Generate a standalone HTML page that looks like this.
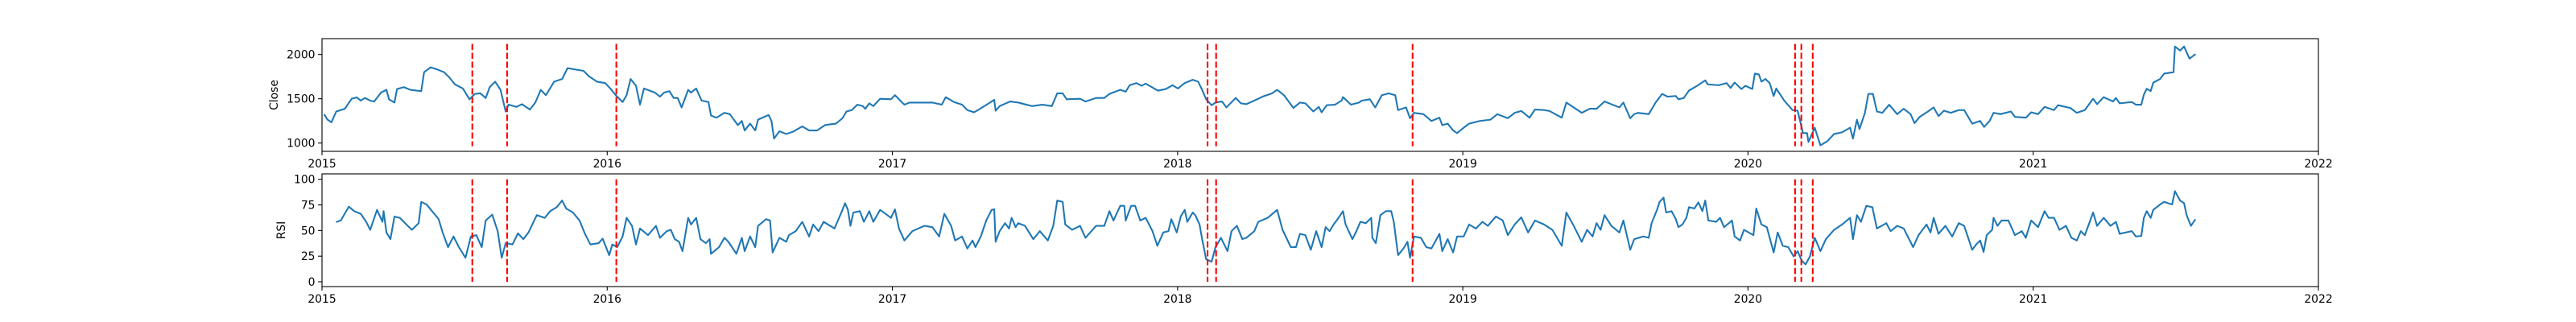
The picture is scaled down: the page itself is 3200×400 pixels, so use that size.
<!DOCTYPE html>
<html><head><meta charset="utf-8"><style>
html,body{margin:0;padding:0;background:#fff;}
svg{display:block;font-family:"DejaVu Sans","Liberation Sans",sans-serif;}
</style></head><body>
<svg id="chart" width="3200" height="400" viewBox="0 0 3200 400" xmlns="http://www.w3.org/2000/svg">
<rect x="0" y="0" width="3200" height="400" fill="#fff"/>
</svg>
<script>
// time values are years elapsed since 2015-01-01
const xTickLabels = ["2015","2016","2017","2018","2019","2020","2021","2022"];
const closeTicks = [1000,1500,2000];
const rsiTicks = [0,25,50,75,100];
const signalYears = [0.527,0.649,1.032,3.105,3.135,3.824,5.165,5.187,5.227];

const closeYears = [0.009,0.019,0.033,0.050,0.080,0.104,0.122,0.136,0.150,0.169,0.183,0.207,0.226,0.235,0.254,0.263,0.287,0.310,0.348,0.358,0.381,0.400,0.428,0.447,0.466,0.494,0.517,0.536,0.555,0.574,0.588,0.607,0.626,0.644,0.654,0.682,0.701,0.729,0.748,0.767,0.785,0.814,0.842,0.861,0.889,0.917,0.936,0.964,0.993,1.011,1.030,1.054,1.068,1.082,1.101,1.115,1.129,1.167,
1.185,1.200,1.218,1.233,1.247,1.261,1.284,1.294,1.312,1.331,1.355,1.364,1.383,1.411,1.430,1.458,1.472,1.482,1.501,1.519,1.529,1.566,1.576,1.585,1.604,1.628,1.651,1.684,1.708,1.736,1.764,1.802,1.825,1.839,1.858,1.877,1.896,1.905,1.919,1.933,1.957,1.995,2.009,2.042,2.060,2.112,2.140,2.173,2.187,2.216,2.244,2.263,2.286,
2.300,2.338,2.357,2.362,2.376,2.413,2.441,2.489,2.526,2.559,2.578,2.597,2.611,2.658,2.677,2.714,2.743,2.761,2.799,2.818,2.832,2.855,2.874,2.888,2.931,2.959,2.982,3.001,3.025,3.053,3.072,3.086,3.100,3.119,3.133,3.156,3.171,3.204,3.222,3.241,3.283,3.298,3.331,3.349,3.373,3.406,3.429,3.448,
3.476,3.495,3.505,3.523,3.552,3.575,3.580,3.608,3.636,3.646,3.674,3.693,3.716,3.740,3.763,3.773,3.801,3.815,3.829,3.862,3.890,3.918,3.928,3.947,3.966,3.980,4.003,4.022,4.060,4.097,4.121,4.158,4.182,4.205,4.234,4.253,4.285,4.304,4.347,4.363,4.389,4.417,4.445,4.469,4.497,4.525,4.549,4.563,4.587,4.601,
4.615,4.652,4.676,4.699,4.718,4.747,4.756,4.775,4.793,4.822,4.850,4.859,4.897,4.925,4.939,4.953,4.977,4.991,5.015,5.024,5.038,5.047,5.061,5.076,5.090,5.099,5.127,5.156,5.174,5.193,5.207,5.212,5.234,5.254,5.278,5.302,5.330,5.358,5.368,5.382,5.391,5.410,5.422,5.438,5.452,5.471,5.495,5.523,5.546,5.570,5.584,5.602,5.631,5.651,5.668,5.687,5.711,5.739,5.758,
5.786,5.814,5.828,5.847,5.861,5.885,5.922,5.936,5.974,5.993,6.017,6.040,6.073,6.087,6.130,6.153,6.181,6.210,6.224,6.247,6.280,6.290,6.303,6.346,6.360,6.379,6.388,6.398,6.412,6.421,6.445,6.459,6.492,6.497,6.515,6.529,6.548,6.567];
const closeValues = [1317,1265,1234,1356,1387,1500,1515,1479,1509,1479,1469,1570,1601,1494,1457,1610,1631,1601,1586,1800,1855,1836,1800,1739,1662,1616,1494,1555,1561,1509,1631,1693,1601,1356,1433,1408,1439,1378,1457,1601,1540,1693,1723,1846,1830,1815,1754,1693,1677,1616,1540,1463,1540,1723,1647,1433,1616,1570,
1524,1570,1586,1509,1509,1402,1601,1570,1616,1479,1463,1310,1286,1341,1326,1203,1249,1142,1219,1142,1264,1317,1249,1050,1133,1102,1127,1188,1142,1142,1203,1219,1280,1356,1372,1433,1417,1387,1448,1417,1500,1494,1540,1433,1457,1457,1457,1433,1518,1463,1433,1372,1347,
1372,1448,1488,1365,1417,1469,1457,1417,1433,1417,1561,1561,1494,1500,1469,1509,1509,1555,1601,1580,1653,1677,1647,1671,1592,1610,1653,1616,1677,1714,1693,1601,1494,1427,1457,1469,1402,1509,1448,1439,1500,1524,1561,1601,1540,1396,1457,1448,
1356,1408,1347,1427,1433,1479,1518,1433,1457,1479,1494,1402,1540,1561,1540,1372,1402,1280,1341,1326,1249,1286,1203,1219,1142,1112,1173,1219,1249,1264,1326,1280,1341,1362,1286,1378,1372,1362,1286,1457,1402,1341,1387,1387,1469,1433,1402,1457,1280,1326,
1341,1326,1457,1555,1524,1531,1494,1509,1592,1647,1708,1662,1653,1677,1622,1683,1610,1647,1610,1784,1775,1693,1723,1677,1531,1616,1479,1372,1365,1112,1112,1011,1173,974,1020,1102,1121,1173,1050,1264,1158,1341,1555,1555,1356,1341,1433,1326,1387,1326,1225,1295,1356,1402,1304,1365,1341,1372,1372,
1219,1249,1182,1249,1341,1326,1356,1295,1286,1347,1326,1408,1372,1427,1396,1341,1372,1500,1439,1518,1469,1509,1448,1463,1433,1433,1546,1613,1586,1683,1723,1784,1800,2090,2044,2090,1953,1999];

const rsiYears = [0.052,0.066,0.094,0.113,0.136,0.155,0.169,0.193,0.212,0.216,0.226,0.240,0.254,0.273,0.296,0.315,0.339,0.348,0.367,0.386,0.409,0.423,0.442,0.461,0.480,0.503,0.522,0.541,0.560,0.574,0.597,0.616,0.630,0.644,0.668,0.687,0.706,0.724,0.753,0.781,0.800,0.823,0.842,0.856,0.880,0.903,0.922,0.941,0.970,0.984,1.007,1.018,1.035,1.054,1.068,1.087,1.101,1.115,1.143,
1.171,1.185,1.209,1.223,1.237,1.252,1.264,1.284,1.294,1.312,1.327,1.346,1.359,1.364,1.392,1.411,1.425,1.453,1.472,1.482,1.501,1.519,1.529,1.557,1.571,1.580,1.604,1.628,1.637,1.661,1.684,1.708,1.722,1.741,1.759,1.797,1.811,1.825,1.834,1.844,1.853,1.863,1.886,1.900,1.919,1.933,1.957,1.995,2.009,2.023,2.042,2.070,2.112,2.140,2.164,2.182,2.206,2.220,2.244,2.263,2.281,2.291,2.310,
2.329,2.348,2.357,2.362,2.376,2.395,2.409,2.418,2.432,2.441,2.465,2.494,2.517,2.545,2.564,2.578,2.597,2.606,2.630,2.658,2.677,2.714,2.743,2.761,2.775,2.799,2.813,2.818,2.837,2.851,2.869,2.888,2.912,2.929,2.950,2.968,2.978,2.997,3.011,3.025,3.034,3.053,3.062,3.077,3.086,3.100,3.119,3.133,3.152,3.175,3.189,3.208,3.227,3.241,3.269,3.283,3.316,3.349,3.368,3.397,3.415,3.429,3.448,
3.467,3.486,3.505,3.519,3.533,3.547,3.561,3.580,3.589,3.613,3.627,3.641,3.660,3.679,3.683,3.695,3.711,3.730,3.749,3.758,3.773,3.792,3.806,3.815,3.829,3.853,3.872,3.890,3.918,3.928,3.947,3.966,3.980,4.003,4.022,4.046,4.069,4.088,4.116,4.140,4.158,4.182,4.205,4.229,4.253,4.285,4.314,4.347,4.363,4.389,4.417,4.436,4.455,4.469,4.483,4.497,4.521,4.549,4.563,4.587,4.601,
4.633,4.652,4.662,4.681,4.690,4.704,4.713,4.732,4.747,4.756,4.770,4.784,4.793,4.812,4.826,4.840,4.850,4.861,4.888,4.902,4.916,4.944,4.953,4.972,4.986,5.019,5.029,5.047,5.066,5.090,5.104,5.122,5.141,5.160,5.174,5.188,5.202,5.217,5.234,5.254,5.273,5.302,5.330,5.358,5.368,5.382,5.396,5.415,5.436,5.452,5.485,5.500,5.523,5.546,5.579,5.598,5.626,5.640,5.651,5.668,5.692,5.716,5.739,5.758,
5.786,5.800,5.814,5.826,5.837,5.856,5.861,5.875,5.889,5.913,5.936,5.960,5.974,5.993,6.017,6.040,6.054,6.073,6.092,6.115,6.134,6.153,6.167,6.181,6.200,6.210,6.224,6.247,6.271,6.290,6.303,6.346,6.360,6.379,6.388,6.398,6.412,6.421,6.445,6.459,6.487,6.497,6.515,6.529,6.538,6.553,6.567];
const rsiValues = [58.5,59.8,73.3,68.9,66.3,58.5,50.7,70.2,58.5,68.9,48.1,41.6,63.7,62.4,55.9,50.7,57.2,78,75.4,68.9,61.1,48.1,33.8,44.2,33.8,23.4,44.2,45.5,33.8,59.8,65.5,49.4,23.4,37.7,36.4,47.3,41.6,48.1,65,62.4,68.9,72.8,79.3,71.5,67.6,59.8,46.8,36.4,37.7,42.1,26,36.4,33.8,44.2,62.4,54.6,36.4,52,45.5,
54.6,42.9,49.4,50.7,41.6,39,29.9,62.4,55.9,62.4,41.6,37.7,41.6,27.3,33.8,42.9,39,27.3,42.9,29.9,44.2,33.8,54.6,61.1,59.8,28.6,42.9,39,45.5,49.4,58.5,44.2,55.9,49.4,58.5,52,61.1,70.2,76.7,70.2,54.6,67.6,68.9,58.5,68.9,58.5,70.2,62.4,70.7,52,40.3,49.4,54.6,53.3,44.2,66.3,54.6,40.3,44.2,32.5,40.3,33.8,44.2,
59.8,70.2,70.7,39,49.4,57.2,52,62.4,53.3,57.2,54.6,41.6,49.4,40.3,54.6,79.3,78,55.9,50.7,54.6,42.9,54.6,54.6,68.9,59.8,74.1,74.1,59.8,74.1,74.1,59.8,62.4,49.4,35.1,48.1,49.4,61.1,48.1,63.7,70.2,58.5,67.6,65,55.9,41.6,22.1,19.5,33.8,42.9,29.9,49.4,54.6,41.6,42.9,49.4,58.5,62.4,70.2,50.7,33.8,33.8,46.8,45.5,
31.2,49.4,33.8,53.3,49.4,55.9,61.1,68.9,55.9,41.6,49.4,58.5,57.2,62.4,42.9,37.7,65,68.9,68.9,58.5,26,32.5,39,23.4,44.2,42.9,33.8,32.5,46.8,29.9,41.6,28.6,44.2,44.2,55.9,52,58.5,54.6,63.7,59.8,45.5,55.9,62.9,48.1,59.8,55.9,50.7,35.1,67.6,54.6,39,50.7,44.2,57.2,50.7,65,54.6,48.1,59.8,31.2,41.6,
44.2,42.9,57.2,70.2,78,82.1,67.6,68.9,61.1,53.3,55.9,62.4,72.8,71.5,77.5,68.9,79.3,59.8,58.5,62.4,53.3,59.8,44.2,40.3,50.7,45.5,71.5,55.9,53.3,28.6,48.1,35.1,33.8,24.7,29.9,20.8,16.9,24.7,42.9,29.9,41.6,50.7,55.9,62.4,41.6,65,58.5,74.1,72.8,52,57.2,49.4,54.6,52,33.8,45.5,55.9,48.1,62.4,46.8,54.6,44.2,57.2,54.6,
31.2,36.4,40.3,29.1,45.5,50.7,62.4,54.6,59.8,59.8,45.5,49.4,42.9,59.8,53.3,68.9,62.4,62.4,50.7,54.6,42.9,40.3,49.4,45.5,59.8,67.6,54.6,62.4,54.6,58.5,46.8,49.4,44.2,44.7,62.4,68.9,62.4,70.2,75.4,78,75.4,88.4,79.3,76.7,65,54.6,60.3];

const NS = "http://www.w3.org/2000/svg";
const svg = document.getElementById('chart');
const L = 400, R = 2880, YRS = 7;
const xScale = t => L + t / YRS * (R - L);
const panels = [
  {name:'close', top:48, bottom:188, min:906, max:2179, label:'Close', ticks:closeTicks, xs:closeYears, ys:closeValues},
  {name:'rsi', top:216, bottom:356, min:-4.7, max:105.3, label:'RSI', ticks:rsiTicks, xs:rsiYears, ys:rsiValues}
];
function mk(tag, attrs, parent){ const e=document.createElementNS(NS,tag); for(const k in attrs) e.setAttribute(k,attrs[k]); (parent||svg).appendChild(e); return e; }

panels.forEach(p => {
  const yScale = v => p.bottom - (v - p.min) / (p.max - p.min) * (p.bottom - p.top);
  const g = mk('g', {});
  
  
  // series line
  let d = '';
  p.xs.forEach((t,i) => { d += (i ? 'L' : 'M') + xScale(t).toFixed(2) + ' ' + yScale(p.ys[i]).toFixed(2); });
  const line = mk('path', {d:d, fill:'none', stroke:'#1f77b4', 'stroke-width':2.08, 'stroke-linejoin':'round', 'stroke-linecap':'square'}, g);
  
  
  // signal vlines from data min to data max
  const dmin = Math.min(...p.ys), dmax = Math.max(...p.ys);
  const y0 = p.name === 'rsi' ? yScale(0) : yScale(dmin - 10);
  const y1 = p.name === 'rsi' ? yScale(100) : yScale(dmax + 30);
  signalYears.forEach(t => {
    const v = mk('line', {x1:xScale(t), x2:xScale(t), y1:y1, y2:y0, stroke:'#ff0000', 'stroke-width':2.08, 'stroke-dasharray':'7.7 3.3'}, g);
    
    
  });
  // frame
  const fr = mk('rect', {x:L, y:p.top, width:R-L, height:p.bottom-p.top, fill:'none', stroke:'#000', 'stroke-width':1.1}, g);
  
  
  // y ticks
  p.ticks.forEach(v => {
    const y = yScale(v);
    mk('line', {x1:L-4.9, x2:L, y1:y, y2:y, stroke:'#000', 'stroke-width':1.1}, g);
    const tx = mk('text', {x:L-8.5, y:y+5, 'text-anchor':'end', 'font-size':'13.9px', fill:'#000'}, g);
    tx.textContent = v;
    
    
  });
  // x ticks
  xTickLabels.forEach((lab,i) => {
    const x = xScale(i);
    mk('line', {x1:x, x2:x, y1:p.bottom, y2:p.bottom+4.9, stroke:'#000', 'stroke-width':1.1}, g);
    const tx = mk('text', {x:x, y:p.bottom+20, 'text-anchor':'middle', 'font-size':'13.9px', fill:'#000'}, g);
    tx.textContent = lab;
    
    
  });
  // y label
  const cy = (p.top + p.bottom) / 2;
  const lx = p.name === 'rsi' ? 350 : 341;
  const yl = mk('text', {x:lx, y:cy, 'text-anchor':'middle', 'dominant-baseline':'central', 'font-size':'13.9px', fill:'#000', transform:'rotate(-90 '+lx+' '+cy+')'}, g);
  yl.textContent = p.label;
  
  
});
</script>
</body></html>
